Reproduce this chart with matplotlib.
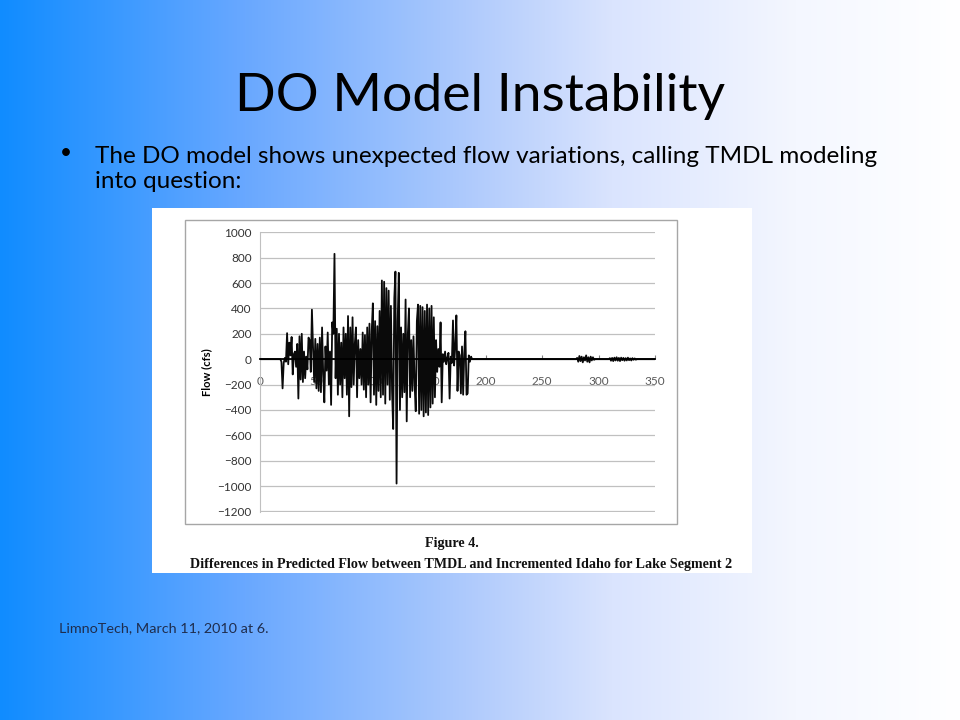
import numpy as np
import matplotlib
matplotlib.use("Agg")
import matplotlib.pyplot as plt
from matplotlib.patches import Rectangle

W, H = 960, 720

# slide text
title = "DO Model Instability"
bullet_lines = ["The DO model shows unexpected flow variations, calling TMDL modeling",
                "into question:"]
footer = "LimnoTech, March 11, 2010 at 6."
fig_label = "Figure 4."
fig_caption = "Differences in Predicted Flow between TMDL and Incremented Idaho for Lake Segment 2"

# axis setup
y_ticks = [1000, 800, 600, 400, 200, 0, -200, -400, -600, -800, -1000, -1200]
x_ticks = [0, 50, 100, 150, 200, 250, 300, 350]

# daily flow difference (cfs), days 19..187
flow_start = 19
flow_main = [
    -20, -230, -30, 10, -20, 205, -40, 130, 30, 175,
    -120, 40, 60, -60, 120, -310, 180, -160, 200, -180,
    60, -150, 20, -80, 170, 150, -100, 390, 90, -180,
    160, -230, 120, -250, 170, -260, 250, -120, -340, 100,
    -90, 210, -200, 60, -360, 290, 200, 830, -150, 240,
    -280, 200, -200, 130, -300, 250, -150, 200, -280, 340,
    -450, 250, -220, 330, -200, 120, 250, -300, 150, -150,
    80, -200, 210, -240, 190, -300, 250, -200, 280, -340,
    220, 440, -280, 300, -360, 260, -250, 380, -300, 620,
    -280, 610, -350, 560, -200, 540, -320, 420, -250, -550,
    480, 690, -980, 300, 680, -400, 250, -300, 200, -260,
    470, -490, 200, 400, -300, 150, -250, 180, -200, -410,
    300, 430, -430, 420, -400, 410, -450, 380, -420, 430,
    -440, 400, -380, 420, -350, 330, -300, 150, -100, 80,
    -60, 290, -340, 40, -20, 60, -40, 10, 50, -310,
    20, -30, 305, -50, 100, 345, -250, 60, 30, -270,
    100, -280, 50, 220, -280, -270, 30, -20, 20,
]
# small wiggles late in the year
late1_start = 281
flow_late1 = [10, -20, 25, -15, 20, -25, 15, -10, 30, -20, 15, -25, 20, -10, 15, -5, 0]
late2_start = 310
flow_late2 = [8, -12, 10, -15, 12, -10, 15, -12, 10, -15, 12, -8, 10, -12, 8,
              -10, 12, -8, 6, -10, 8, -5, 6, -4, 0]
end_day = 350


def px(x, y):
    return x / W, 1 - y / H


# background gradient
grad_x = [0, 245, 478, 612, 796, 960]
grad_r = [16, 105, 178, 218, 244, 255]
grad_g = [140, 168, 204, 228, 247, 255]
grad_b = [255, 255, 252, 254, 255, 255]

fig = plt.figure(figsize=(W / 100, H / 100), dpi=100)
bg = fig.add_axes([0, 0, 1, 1], zorder=0)
xs = np.arange(W)
row = np.stack([np.interp(xs, grad_x, grad_r),
                np.interp(xs, grad_x, grad_g),
                np.interp(xs, grad_x, grad_b)], axis=-1) / 255.0
bg.imshow(row[np.newaxis, :, :], aspect="auto", extent=[0, 1, 0, 1])
bg.set_xlim(0, 1)
bg.set_ylim(0, 1)
bg.axis("off")

# white picture and chart frame
fig.patches.append(Rectangle(px(152, 573), 600 / W, 365 / H, transform=fig.transFigure,
                             facecolor="white", edgecolor="none", zorder=1))
fig.patches.append(Rectangle(px(185, 524), 492 / W, 304 / H, transform=fig.transFigure,
                             facecolor="none", edgecolor="#a6a6a6", lw=1.0, zorder=2))

# titles
fig.text(*px(480, 111), title, ha="center", va="baseline", fontsize=38.5,
         family="Lato", color="black")
fig.text(*px(60, 159), "\u2022", ha="left", va="baseline", fontsize=15,
         family="Lato", color="black")
fig.text(*px(95, 163), bullet_lines[0], ha="left", va="baseline", fontsize=17.5,
         family="Lato", color="black")
fig.text(*px(95, 188), bullet_lines[1], ha="left", va="baseline", fontsize=17.5,
         family="Lato", color="black")
fig.text(*px(59, 632), footer, ha="left", va="baseline", fontsize=10.4,
         family="Lato", color="#1f2d4d")
fig.text(*px(452, 547), fig_label, ha="center", va="baseline", fontsize=10.2,
         family="Liberation Serif", weight="bold", color="#111111")
fig.text(*px(461, 568), fig_caption, ha="center", va="baseline", fontsize=10.2,
         family="Liberation Serif", weight="bold", color="#111111")

# chart
days = np.concatenate([[1, flow_start - 1],
                       np.arange(flow_start, flow_start + len(flow_main)),
                       [flow_start + len(flow_main), late1_start - 1],
                       np.arange(late1_start, late1_start + len(flow_late1)),
                       [late1_start + len(flow_late1), late2_start - 1],
                       np.arange(late2_start, late2_start + len(flow_late2)),
                       [late2_start + len(flow_late2), end_day]])
flow = np.concatenate([[0, 0], flow_main, [0, 0], flow_late1, [0, 0], flow_late2, [0, 0]])

ax = fig.add_axes([260 / W, 1 - 512 / H, 395 / W, 280 / H], zorder=5)
ax.set_facecolor("none")
ax.plot(days, flow, color="#0a0a0a", lw=1.3, zorder=3)
ax.set_xlim(0, 350)
ax.set_ylim(-1204, 1002)
ax.set_yticks(y_ticks)
ax.set_xticks(x_ticks)
ax.grid(axis="y", color="#c0c0c0", lw=0.9, zorder=0)
ax.set_axisbelow(True)
for side in ("top", "right"):
    ax.spines[side].set_visible(False)
ax.spines["left"].set_color("#c0c0c0")
ax.spines["bottom"].set_position(("data", 0))
ax.spines["bottom"].set_color("black")
ax.spines["bottom"].set_linewidth(1.3)
ax.spines["bottom"].set_zorder(4)
ax.tick_params(axis="y", length=0, pad=6, labelsize=8.5, labelcolor="#333333")
ax.tick_params(axis="x", direction="in", length=3, color="#808080", pad=12,
               labelsize=8.5, labelcolor="#595959")
for lab in ax.get_xticklabels() + ax.get_yticklabels():
    lab.set_family("Lato")
ax.set_ylabel("Flow (cfs)", fontsize=8, family="Lato", weight="bold", labelpad=4)

fig.savefig("out.png", dpi=100)
